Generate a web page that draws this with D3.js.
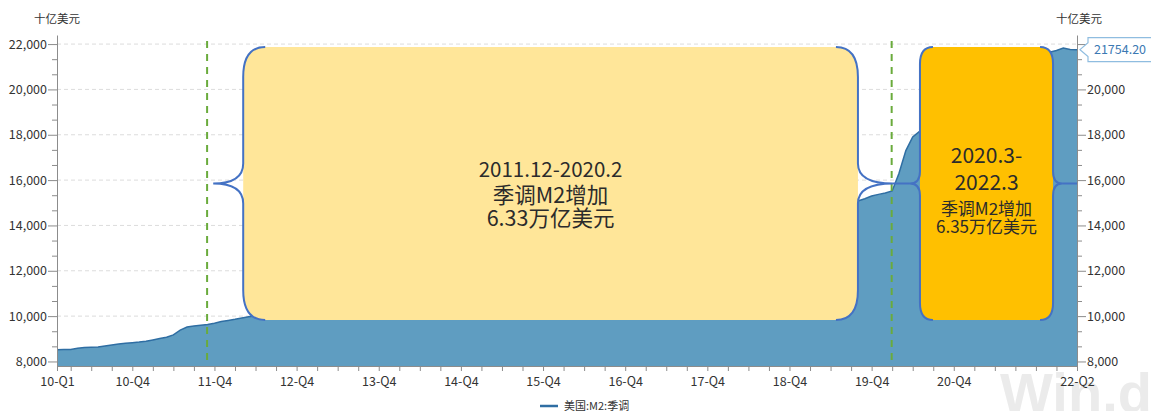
<!DOCTYPE html>
<html>
<head>
<meta charset="utf-8">
<script src="https://cdn.jsdelivr.net/npm/d3@7"></script>
<style>
  html, body { margin: 0; padding: 0; background: #fff; }
  svg { display: block; }
  text { font-family: "Noto Sans CJK SC", "Noto Sans", sans-serif; }
</style>
</head>
<body>
<svg id="chart" width="1151" height="411"></svg>
<script>
// Monthly categories, Jan 2010 – Jun 2022
const months = d3.timeMonth.range(new Date(2010, 0, 1), new Date(2022, 6, 1)).map(d3.timeFormat("%Y-%m"));

// US M2, seasonally adjusted (billions of USD)
const m2Values = [
  8520, 8525, 8530, 8580, 8620, 8628, 8635, 8680, 8730, 8770, 8800, 8830,
  8855, 8890, 8950, 9010, 9070, 9170, 9380, 9520, 9560, 9600, 9630, 9690,
  9760, 9810, 9860, 9920, 9970, 10010, 10060, 10120, 10190, 10250, 10330, 10420,
  10460, 10500, 10540, 10590, 10640, 10690, 10730, 10780, 10830, 10890, 10940, 10990,
  11050, 11110, 11170, 11230, 11270, 11320, 11370, 11420, 11470, 11520, 11580, 11640,
  11710, 11780, 11830, 11880, 11930, 11990, 12050, 12100, 12160, 12210, 12270, 12330,
  12400, 12460, 12520, 12600, 12660, 12730, 12810, 12880, 12940, 13010, 13110, 13190,
  13240, 13290, 13370, 13430, 13470, 13520, 13560, 13610, 13670, 13720, 13770, 13830,
  13860, 13900, 13960, 14000, 14040, 14080, 14120, 14160, 14200, 14230, 14290, 14360,
  14430, 14470, 14500, 14520, 14590, 14680, 14790, 14860, 14960, 15080, 15180, 15300,
  15370, 15430, 15520, 16300, 17300, 17900, 18150, 18320, 18420, 18600, 18760, 18920,
  19100, 19380, 19680, 19910, 20070, 20190, 20400, 20580, 20750, 20960, 21150, 21360,
  21490, 21640, 21720, 21830, 21760, 21754.20
];

// Axis labels on the time axis
const xLabelMonths = ["2010-01", "2010-12", "2011-12", "2012-12", "2013-12", "2014-12", "2015-12",
                      "2016-12", "2017-12", "2018-12", "2019-12", "2020-12", "2022-06"];
const xLabelTexts = ["10-Q1", "10-Q4", "11-Q4", "12-Q4", "13-Q4", "14-Q4", "15-Q4",
                     "16-Q4", "17-Q4", "18-Q4", "19-Q4", "20-Q4", "22-Q2"];
const yMajorTicks = [8000, 10000, 12000, 14000, 16000, 18000, 20000, 22000];
const yRightLabels = [8000, 10000, 12000, 14000, 16000, 18000, 20000];

// Period markers and annotations
const markerMonths = ["2011-11", "2020-03"];
const periodTitles = [["2011.12-2020.2"], ["2020.3-", "2022.3"]];
const periodNotes = [["季调M2增加", "6.33万亿美元"], ["季调M2增加", "6.35万亿美元"]];

const unitLabel = "十亿美元";
const seriesName = "美国:M2:季调";

const svg = d3.select("#chart");
const plotLeft = 57, plotRight = 1077, plotTop = 35, plotBottom = 366;

const x = d3.scaleLinear().domain([0, months.length - 1]).range([plotLeft, plotRight]);
const y = d3.scaleLinear().domain([7800, 22400]).range([plotBottom, plotTop]);
const idx = m => months.indexOf(m);

// Watermark
svg.append("text")
  .attr("x", 1000).attr("y", 412)
  .style("font-family", "'Liberation Sans', Arial, sans-serif")
  .attr("font-size", 56).attr("font-weight", "bold")
  .attr("fill", "#ebebeb")
  .text("Win.d");

// Horizontal grid
svg.append("g").selectAll("line").data(yMajorTicks).join("line")
  .attr("x1", plotLeft).attr("x2", plotRight)
  .attr("y1", d => y(d)).attr("y2", d => y(d))
  .attr("stroke", "#dcdcdc").attr("stroke-width", 1).attr("stroke-dasharray", "4,3");

// Area + line
const area = d3.area().x((d, i) => x(i)).y0(y(7800)).y1(d => y(d));
const line = d3.line().x((d, i) => x(i)).y(d => y(d));
svg.append("path").datum(m2Values).attr("d", area).attr("fill", "#5f9dc1");
svg.append("path").datum(m2Values).attr("d", line)
  .attr("fill", "none").attr("stroke", "#2f6ea3").attr("stroke-width", 1.5);

// Green dashed period markers
svg.append("g").selectAll("line").data(markerMonths).join("line")
  .attr("x1", d => x(idx(d)) - 0.5).attr("x2", d => x(idx(d)) - 0.5)
  .attr("y1", 41).attr("y2", plotBottom)
  .attr("stroke", "#6aab3c").attr("stroke-width", 2).attr("stroke-dasharray", "7,6");

// Bracketed period boxes
const boxes = [
  { x0: 27.2, x1: 117.0, fill: "#FFE699", rx: 22, ry: 30, tipL: 30, tipR: 35, tr: 20,
    title: periodTitles[0], note: periodNotes[0], titleSize: 20.5, noteSize: 21.5,
    baselines: [177, 202.5, 225.5] },
  { x0: 126.06, x1: 145.5, fill: "#FFC000", rx: 13, ry: 17, tipL: 10, tipR: 9, tr: 12,
    title: periodTitles[1], note: periodNotes[1], titleSize: 21, noteSize: 17,
    baselines: [163, 190, 215, 233] }
];
const boxTop = y(21870), boxBottom = y(9830), boxMid = (boxTop + boxBottom) / 2;

function roundedRect(xl, xr, y0, y1, rx, ry) {
  return `M${xl + rx},${y0} L${xr - rx},${y0} Q${xr},${y0} ${xr},${y0 + ry} L${xr},${y1 - ry}` +
         ` Q${xr},${y1} ${xr - rx},${y1} L${xl + rx},${y1} Q${xl},${y1} ${xl},${y1 - ry}` +
         ` L${xl},${y0 + ry} Q${xl},${y0} ${xl + rx},${y0} Z`;
}
// side = -1: tip points left; side = +1: tip points right
function bracePath(xv, xt, y0, y1, rx, ry, tr, side) {
  const ym = (y0 + y1) / 2, xe = xv - side * rx;
  return `M${xe},${y0} Q${xv},${y0} ${xv},${y0 + ry} L${xv},${ym - tr} Q${xv},${ym} ${xt},${ym}` +
         ` Q${xv},${ym} ${xv},${ym + tr} L${xv},${y1 - ry} Q${xv},${y1} ${xe},${y1}`;
}

const gBoxes = svg.append("g");
boxes.forEach(b => {
  const xl = x(b.x0), xr = x(b.x1);
  gBoxes.append("path").attr("d", roundedRect(xl, xr, boxTop, boxBottom, b.rx, b.ry)).attr("fill", b.fill);
  gBoxes.append("path").attr("d", bracePath(xl, xl - b.tipL, boxTop, boxBottom, b.rx, b.ry, b.tr, -1))
    .attr("fill", "none").attr("stroke", "#4472C4").attr("stroke-width", 2);
  gBoxes.append("path").attr("d", bracePath(xr, xr + b.tipR, boxTop, boxBottom, b.rx, b.ry, b.tr, 1))
    .attr("fill", "none").attr("stroke", "#4472C4").attr("stroke-width", 2);
  const cx = (xl + xr) / 2;
  const lines = b.title.map(t => ({ t, s: b.titleSize })).concat(b.note.map(t => ({ t, s: b.noteSize })));
  lines.forEach((l, i) => {
    gBoxes.append("text").attr("x", cx).attr("y", b.baselines[i])
      .attr("text-anchor", "middle").attr("font-size", l.s).attr("fill", "#2b2b2b").text(l.t);
  });
});
// Connector strokes between the brace tips
const yTipR = x(boxes[0].x1) + boxes[0].tipR, oTipL = x(boxes[1].x0) - boxes[1].tipL;
const oTipR = x(boxes[1].x1) + boxes[1].tipR;
gBoxes.append("line").attr("x1", yTipR).attr("x2", oTipL).attr("y1", boxMid).attr("y2", boxMid)
  .attr("stroke", "#4472C4").attr("stroke-width", 2);
gBoxes.append("line").attr("x1", oTipR).attr("x2", plotRight).attr("y1", boxMid).attr("y2", boxMid)
  .attr("stroke", "#4472C4").attr("stroke-width", 2);

// Axes
const axisColor = "#8c8c8c", labelColor = "#333";
const yMinorTicks = d3.range(8000, 22001, 2000 / 3).filter(v => Math.abs(v / 2000 - Math.round(v / 2000)) > 1e-6);

function styleAxis(g) {
  g.select(".domain").attr("stroke", axisColor);
  g.selectAll(".tick line").attr("stroke", axisColor);
  g.selectAll(".tick text").attr("fill", labelColor).attr("font-size", 12.5)
    .style("font-family", "'Noto Sans CJK SC', sans-serif");
}

const fmt = d3.format(",");
// Left axis
svg.append("g").attr("transform", `translate(${plotLeft},0)`)
  .call(d3.axisLeft(y).tickValues(yMinorTicks).tickSize(5).tickFormat("").tickSizeOuter(0))
  .call(g => g.select(".domain").remove())
  .call(g => g.selectAll(".tick line").attr("stroke", axisColor));
svg.append("g").attr("transform", `translate(${plotLeft},0)`)
  .call(d3.axisLeft(y).tickValues(yMajorTicks).tickSize(9).tickPadding(1).tickFormat(fmt).tickSizeOuter(0))
  .call(styleAxis);
// Right axis
svg.append("g").attr("transform", `translate(${plotRight},0)`)
  .call(d3.axisRight(y).tickValues(yMinorTicks).tickSize(5).tickFormat("").tickSizeOuter(0))
  .call(g => g.select(".domain").remove())
  .call(g => g.selectAll(".tick line").attr("stroke", axisColor));
svg.append("g").attr("transform", `translate(${plotRight},0)`)
  .call(d3.axisRight(y).tickValues(yMajorTicks).tickSize(9).tickPadding(1)
    .tickFormat(d => yRightLabels.includes(d) ? fmt(d) : "").tickSizeOuter(0))
  .call(styleAxis);

// Bottom axis: quarter-end ticks, labelled at year ends
const qTicks = [0].concat(d3.range(months.length).filter(i => ["03", "06", "09", "12"].includes(months[i].slice(5))));
const labelMap = new Map(xLabelMonths.map((m, i) => [idx(m), xLabelTexts[i]]));
svg.append("g").attr("transform", `translate(0,${plotBottom})`)
  .call(d3.axisBottom(x).tickValues(qTicks).tickSize(5).tickPadding(6)
    .tickFormat(i => labelMap.get(i) || "").tickSizeOuter(0))
  .call(styleAxis);

// Unit labels
svg.append("text").attr("x", 57).attr("y", 23).attr("text-anchor", "middle")
  .attr("font-size", 11.5).attr("fill", labelColor).text(unitLabel);
svg.append("text").attr("x", 1079).attr("y", 23).attr("text-anchor", "middle")
  .attr("font-size", 11.5).attr("fill", labelColor).text(unitLabel);

// Latest value callout
const lastVal = m2Values[m2Values.length - 1];
const cy = y(lastVal), tipX = plotRight + 3;
svg.append("path")
  .attr("d", `M${tipX},${cy} L${tipX + 8},${cy - 7} L${tipX + 8},${cy - 12} L1152,${cy - 12} L1152,${cy + 12} L${tipX + 8},${cy + 12} L${tipX + 8},${cy + 7} Z`)
  .attr("fill", "#fff").attr("stroke", "#8fbde0").attr("stroke-width", 1.2);
svg.append("text").attr("x", 1120).attr("y", cy + 4.5).attr("text-anchor", "middle")
  .attr("font-size", 12.5).attr("fill", "#3b79b3").text(d3.format(".2f")(lastVal));

// Legend
svg.append("line").attr("x1", 540).attr("x2", 558).attr("y1", 406).attr("y2", 406)
  .attr("stroke", "#2f6ea3").attr("stroke-width", 2.5);
svg.append("text").attr("x", 564).attr("y", 410).attr("font-size", 11)
  .attr("fill", labelColor).text(seriesName);
</script>
</body>
</html>
